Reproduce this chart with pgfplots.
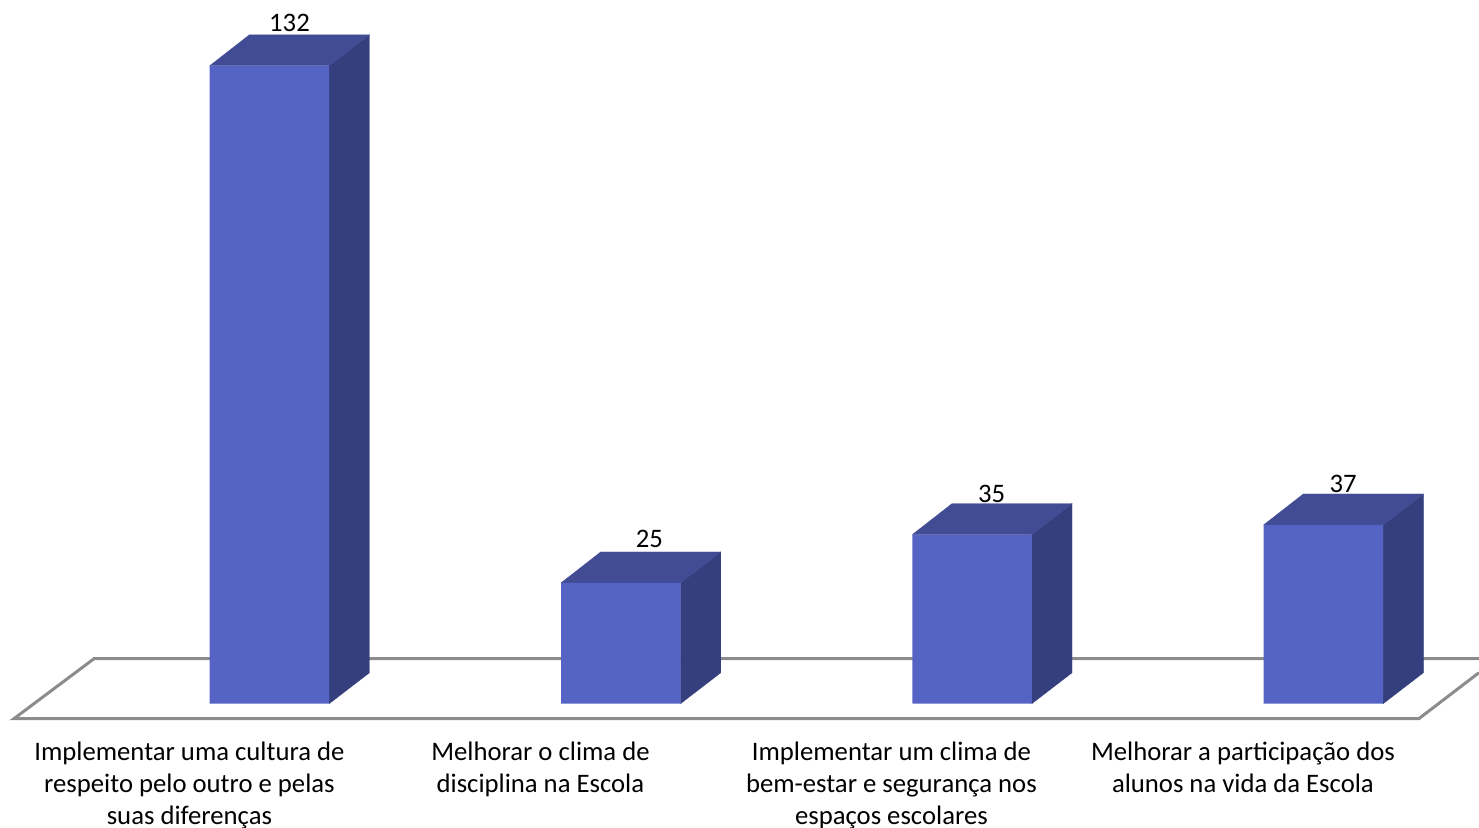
\documentclass[border=0pt]{standalone}
\usepackage{fontspec}
\setmainfont{Carlito}
\usepackage{pgfplots}
\pgfplotsset{compat=1.18}
\definecolor{barfront}{HTML}{5564C4}
\definecolor{barside}{HTML}{363F7E}
\definecolor{bartop}{HTML}{414C94}
\definecolor{floorline}{HTML}{8C8C8C}
% faces of one bar in data units: half width .17, depth .1139 and 6.41
\pgfplotsset{
	side/.style={fill=barside, draw=barside, line width=0.3pt, forget plot},
	top/.style={fill=bartop, draw=bartop, line width=0.3pt, forget plot},
}
\begin{document}
\begin{tikzpicture}
	\path[use as bounding box] (0pt,-109pt) rectangle (1479pt,718pt);
	\clip (0pt,-109pt) rectangle (1479pt,718pt);
	\begin{axis}[
			at={(0pt,0pt)},
			anchor=south west,
			scale only axis,
			width=1479pt,
			height=718pt,
			xmin=-0.767,
			xmax=3.443,
			ymin=-2.955,
			ymax=145.605,
			clip=false,
			axis line style={draw=none},
			tick style={draw=none},
			ytick=\empty,
			xtick={-0.2278,0.7714,1.7704,2.771},
			xticklabels={
				{Implementar uma cultura de\\respeito pelo outro e pelas\\suas diferenças},
				{Melhorar o clima de\\disciplina na Escola},
				{Implementar um clima de\\bem-estar e segurança nos\\espaços escolares},
				{Melhorar a participação dos\\alunos na vida da Escola}
			},
			xticklabel style={
				align=center,
				anchor=north,
				yshift=-20.5pt,
				font=\fontsize{26.7}{32.2}\selectfont,
				text=black,
			},
			every node near coord/.append style={
				font=\fontsize{26.7}{30}\selectfont,
				text=black,
				anchor=center,
			},
		]
		% floor
		\addplot[floorline, line width=3pt, forget plot] coordinates {
			(3.4427,6.41) (3.2717,-3.10) (-0.7273,-3.10) (-0.4995,9.31) (3.46,9.31)
		};
		% side faces
		\addplot[side] coordinates {(0.17,0) (0.2847,6.41) (0.2847,138.41) (0.17,132)} --cycle;
		\addplot[side] coordinates {(1.17,0) (1.2847,6.41) (1.2847,31.41) (1.17,25)} --cycle;
		\addplot[side] coordinates {(2.17,0) (2.2847,6.41) (2.2847,41.41) (2.17,35)} --cycle;
		\addplot[side] coordinates {(3.17,0) (3.2847,6.41) (3.2847,43.41) (3.17,37)} --cycle;
		% top faces
		\addplot[top] coordinates {(-0.17,132) (0.17,132) (0.2847,138.41) (-0.0569,138.41)} --cycle;
		\addplot[top] coordinates {(0.83,25) (1.17,25) (1.2847,31.41) (0.9431,31.41)} --cycle;
		\addplot[top] coordinates {(1.83,35) (2.17,35) (2.2847,41.41) (1.9431,41.41)} --cycle;
		\addplot[top] coordinates {(2.83,37) (3.17,37) (3.2847,43.41) (2.9431,43.41)} --cycle;
		% bars, front faces
		\addplot[ybar, bar width=119.5pt, fill=barfront, draw=none] coordinates {
			(0,132) (1,25) (2,35) (3,37)
		};
		% value labels
		\addplot[draw=none, mark=none, point meta=explicit symbolic, nodes near coords] coordinates {
			(0.057,140.9)[132]
			(1.0815,34.14)[25]
			(2.056,43.45)[35]
			(3.056,45.52)[37]
		};
	\end{axis}
\end{tikzpicture}
\end{document}
